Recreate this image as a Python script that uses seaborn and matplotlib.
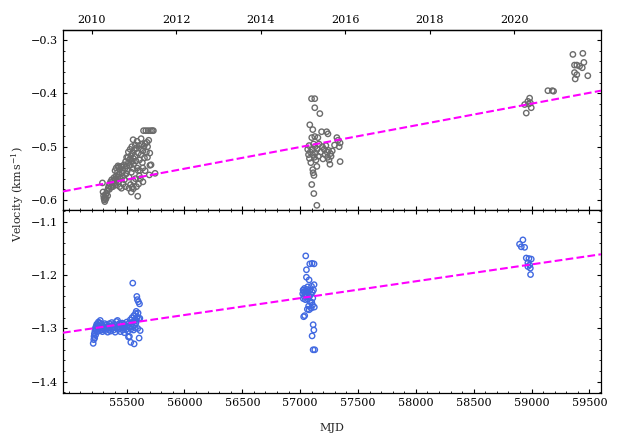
import matplotlib
matplotlib.use("Agg")
import matplotlib.pyplot as plt
from matplotlib.ticker import MultipleLocator, NullLocator, FixedLocator
import pandas as pd
import seaborn as sns

# ---- upper panel: radial velocity (grey) ----
upper_mjd = [
    55291, 55296, 55301, 55304, 55308, 55311, 55314, 55318, 55321, 55326,
    55331, 55336, 55341, 55346, 55351, 55356, 55361, 55366, 55371, 55376,
    55381, 55386, 55391, 55396, 55401, 55406, 55411, 55416, 55421, 55426,
    55431, 55436, 55441, 55446, 55451, 55456, 55461, 55466, 55471, 55476,
    55481, 55486, 55491, 55496, 55501, 55506, 55511, 55516, 55521, 55526,
    55531, 55534, 55536, 55541, 55546, 55548, 55551, 55556, 55558, 55556,
    55558, 55561, 55566, 55571, 55576, 55581, 55586, 55591, 55596, 55601,
    55604, 55606, 55611, 55616, 55619, 55621, 55626, 55631, 55636, 55641,
    55641, 55646, 55651, 55654, 55661, 55666, 55671, 55676, 55681, 55686,
    55691, 55696, 55701, 55706, 55711, 55721, 55731, 55746,
    55400, 55410, 55425, 55432, 55440, 55455, 55470, 55490, 55500, 55515,
    55520, 55530, 55545, 55560, 55575, 55590, 55600, 55610, 55625, 55640,
    55660, 55680, 55700, 55540, 55585,
    57065, 57072, 57077, 57080, 57083, 57087, 57092, 57098, 57100, 57100,
    57103, 57107, 57109, 57109, 57112, 57115, 57118, 57119, 57122, 57126,
    57126, 57126, 57129, 57132, 57137, 57144, 57144, 57147, 57153, 57157,
    57162, 57170, 57177, 57185, 57192, 57197, 57207, 57215, 57222, 57229,
    57232, 57237, 57240, 57245, 57249, 57257, 57262, 57267, 57277, 57297,
    57317, 57327, 57337, 57345, 57345,
    58940, 58954, 58968, 58983, 58997, 58975, 58990,
    59141, 59179, 59190,
    59357, 59443, 59371, 59391, 59415, 59452, 59438, 59371, 59391, 59377,
    59486,
]
upper_vel = [
    -0.568, -0.585, -0.592, -0.597, -0.600, -0.603, -0.595, -0.590, -0.598, -0.588,
    -0.583, -0.592, -0.578, -0.574, -0.580, -0.570, -0.566, -0.576, -0.562, -0.571,
    -0.575, -0.565, -0.558, -0.568, -0.561, -0.572, -0.555, -0.563, -0.548, -0.557,
    -0.566, -0.552, -0.543, -0.560, -0.537, -0.538, -0.549, -0.556, -0.545, -0.534,
    -0.562, -0.541, -0.528, -0.551, -0.536, -0.545, -0.520, -0.530, -0.557, -0.524,
    -0.535, -0.571, -0.517, -0.548, -0.528, -0.576, -0.512, -0.487, -0.579, -0.541,
    -0.522, -0.533, -0.506, -0.518, -0.560, -0.527, -0.503, -0.540, -0.593, -0.512,
    -0.570, -0.498, -0.525, -0.545, -0.560, -0.504, -0.515, -0.496, -0.530, -0.508,
    -0.566, -0.470, -0.499, -0.521, -0.494, -0.470, -0.510, -0.492, -0.500, -0.470,
    -0.488, -0.553, -0.535, -0.470, -0.534, -0.470, -0.470, -0.550,
    -0.545, -0.540, -0.536, -0.538, -0.575, -0.578, -0.570, -0.575, -0.520, -0.510,
    -0.578, -0.505, -0.500, -0.565, -0.497, -0.490, -0.545, -0.555, -0.485, -0.540,
    -0.545, -0.520, -0.512, -0.585, -0.575,
    -0.505, -0.515, -0.498, -0.522, -0.459, -0.510, -0.530, -0.410, -0.483, -0.571,
    -0.505, -0.515, -0.468, -0.543, -0.549, -0.495, -0.588, -0.554, -0.520, -0.410,
    -0.427, -0.481, -0.500, -0.512, -0.525, -0.537, -0.610, -0.505, -0.483, -0.518,
    -0.495, -0.438, -0.510, -0.472, -0.500, -0.523, -0.505, -0.515, -0.498, -0.472,
    -0.510, -0.520, -0.476, -0.507, -0.525, -0.533, -0.513, -0.518, -0.508, -0.497,
    -0.483, -0.488, -0.500, -0.493, -0.528,
    -0.421, -0.437, -0.415, -0.409, -0.427, -0.420, -0.418,
    -0.395, -0.395, -0.396,
    -0.327, -0.325, -0.347, -0.347, -0.349, -0.342, -0.352, -0.361, -0.365, -0.373,
    -0.367,
]

# ---- lower panel: radial velocity (blue) ----
lower_mjd = [
    55211, 55216, 55218, 55221, 55224, 55226, 55229, 55232, 55236, 55239,
    55242, 55246, 55249, 55252, 55256, 55259, 55262, 55266, 55269, 55272,
    55276, 55279, 55282, 55286, 55291, 55296, 55301, 55306, 55311, 55316,
    55321, 55326, 55331, 55336, 55341, 55346, 55351, 55356, 55361, 55366,
    55371, 55376, 55381, 55386, 55391, 55396, 55401, 55406, 55411, 55416,
    55421, 55426, 55431, 55436, 55441, 55446, 55451, 55456, 55461, 55466,
    55471, 55476, 55481, 55486, 55491, 55496, 55501, 55506, 55511, 55516,
    55521, 55524, 55526, 55531, 55536, 55539, 55542, 55546, 55549, 55553,
    55556, 55559, 55562, 55565, 55568, 55571, 55574, 55577, 55580, 55583,
    55586, 55588, 55590, 55593, 55596, 55599, 55602, 55605, 55608, 55611,
    55614, 55617,
    57022, 57025, 57027, 57030, 57032, 57035, 57037, 57039, 57042, 57045,
    57048, 57050, 57052, 57054, 57054, 57057, 57060, 57062, 57065, 57067,
    57070, 57073, 57077, 57077, 57080, 57083, 57085, 57087, 57092, 57095,
    57098, 57100, 57103, 57103, 57105, 57107, 57109, 57112, 57112, 57115,
    57118, 57120, 57120, 57122, 57126,
    58896, 58911, 58925, 58940, 58954, 58977, 58997, 58968, 58983, 58968,
    58989, 58991,
]
lower_vel = [
    -1.328, -1.321, -1.315, -1.310, -1.318, -1.305, -1.300, -1.312, -1.296, -1.303,
    -1.292, -1.299, -1.306, -1.294, -1.288, -1.300, -1.296, -1.304, -1.290, -1.285,
    -1.297, -1.303, -1.292, -1.299, -1.306, -1.295, -1.301, -1.297, -1.291, -1.304,
    -1.298, -1.293, -1.300, -1.307, -1.296, -1.302, -1.291, -1.298, -1.305, -1.295,
    -1.289, -1.300, -1.296, -1.303, -1.292, -1.298, -1.307, -1.294, -1.287, -1.299,
    -1.285, -1.302, -1.296, -1.291, -1.300, -1.306, -1.293, -1.298, -1.290, -1.303,
    -1.297, -1.292, -1.308, -1.299, -1.294, -1.302, -1.288, -1.296, -1.305, -1.316,
    -1.290, -1.315, -1.298, -1.284, -1.326, -1.301, -1.292, -1.280, -1.297, -1.215,
    -1.288, -1.303, -1.276, -1.329, -1.294, -1.283, -1.299, -1.272, -1.290, -1.268,
    -1.285, -1.240, -1.279, -1.246, -1.300, -1.271, -1.250, -1.282, -1.318, -1.254,
    -1.281, -1.304,
    -1.235, -1.228, -1.244, -1.278, -1.231, -1.240, -1.225, -1.276, -1.236, -1.246,
    -1.164, -1.230, -1.241, -1.190, -1.204, -1.227, -1.238, -1.264, -1.222, -1.245,
    -1.233, -1.258, -1.209, -1.265, -1.240, -1.179, -1.228, -1.250, -1.236, -1.262,
    -1.221, -1.251, -1.178, -1.314, -1.232, -1.256, -1.243, -1.293, -1.340, -1.228,
    -1.303, -1.179, -1.218, -1.260, -1.340,
    -1.142, -1.147, -1.134, -1.148, -1.168, -1.169, -1.170, -1.177, -1.181, -1.184,
    -1.187, -1.199,
]

# ---- linear trends ----
trend_mjd = [54950, 59600]
trend_upper = [-0.584, -0.395]
trend_lower = [-1.308, -1.161]

year_ticks = [2010, 2012, 2014, 2016, 2018, 2020]

GREY = "#6b6b6b"
BLUE = "#4169e1"
MAGENTA = "#ff00ff"

sns.set_style("ticks")
plt.rcParams.update({
    "font.family": ["DejaVu Serif"],
    "mathtext.fontset": "dejavuserif",
    "font.size": 8,
    "axes.linewidth": 0.9,
    "xtick.direction": "in",
    "ytick.direction": "in",
    "xtick.major.size": 3.2,
    "ytick.major.size": 3.2,
    "xtick.minor.size": 1.6,
    "ytick.minor.size": 1.6,
    "xtick.color": "black",
    "ytick.color": "black",
    "axes.edgecolor": "black",
})

fig = plt.figure(figsize=(6.24, 4.36), dpi=100)
W, H = 624.0, 436.0
left, right = 63 / W, 601 / W
ax1 = fig.add_axes([left, 1 - 210 / H, right - left, 180 / H])
ax2 = fig.add_axes([left, 1 - 393 / H, right - left, 183 / H], sharex=ax1)

up = pd.DataFrame({"MJD": upper_mjd, "v": upper_vel})
lo = pd.DataFrame({"MJD": lower_mjd, "v": lower_vel})

sns.scatterplot(data=up, x="MJD", y="v", ax=ax1, marker="o", s=15,
                facecolor="none", edgecolor=GREY, linewidth=1.0, zorder=2)
sns.scatterplot(data=lo, x="MJD", y="v", ax=ax2, marker="o", s=15,
                facecolor="none", edgecolor=BLUE, linewidth=1.0, zorder=2)

sns.lineplot(x=trend_mjd, y=trend_upper, ax=ax1, color=MAGENTA,
             linestyle="--", linewidth=1.5, zorder=3)
sns.lineplot(x=trend_mjd, y=trend_lower, ax=ax2, color=MAGENTA,
             linestyle="--", linewidth=1.5, zorder=3)

ax1.set_xlim(54950, 59600)
ax1.set_ylim(-0.6188, -0.2812)
ax2.set_ylim(-1.421, -1.078)

for ax in (ax1, ax2):
    ax.set_xlabel("")
    ax.set_ylabel("")
    ax.xaxis.set_major_locator(MultipleLocator(500))
    ax.xaxis.set_minor_locator(MultipleLocator(100))
    ax.yaxis.set_major_locator(MultipleLocator(0.1))
    ax.yaxis.set_minor_locator(MultipleLocator(0.02))
    ax.tick_params(which="both", right=True, labelsize=8)

ax1.tick_params(which="both", top=False, labelbottom=False)
ax2.tick_params(which="both", top=True)
ax2.set_xticks([55500, 56000, 56500, 57000, 57500, 58000, 58500, 59000, 59500])


def mjd_to_year(m):
    return 2000.0 + (m - 51544.5) / 365.25


def year_to_mjd(y):
    return 51544.5 + (y - 2000.0) * 365.25


sec = ax1.secondary_xaxis("top", functions=(mjd_to_year, year_to_mjd))
sec.xaxis.set_major_locator(FixedLocator(year_ticks))
sec.xaxis.set_minor_locator(NullLocator())
sec.tick_params(direction="in", length=3.2, labelsize=8)

ax2.set_xlabel("MJD", fontsize=8, labelpad=11)
fig.text(18 / W, 1 - 194 / H, r"Velocity (km$\,$s$^{-1}$)", rotation=90,
         ha="center", va="center", fontsize=8)

fig.savefig("out.png", dpi=100)
